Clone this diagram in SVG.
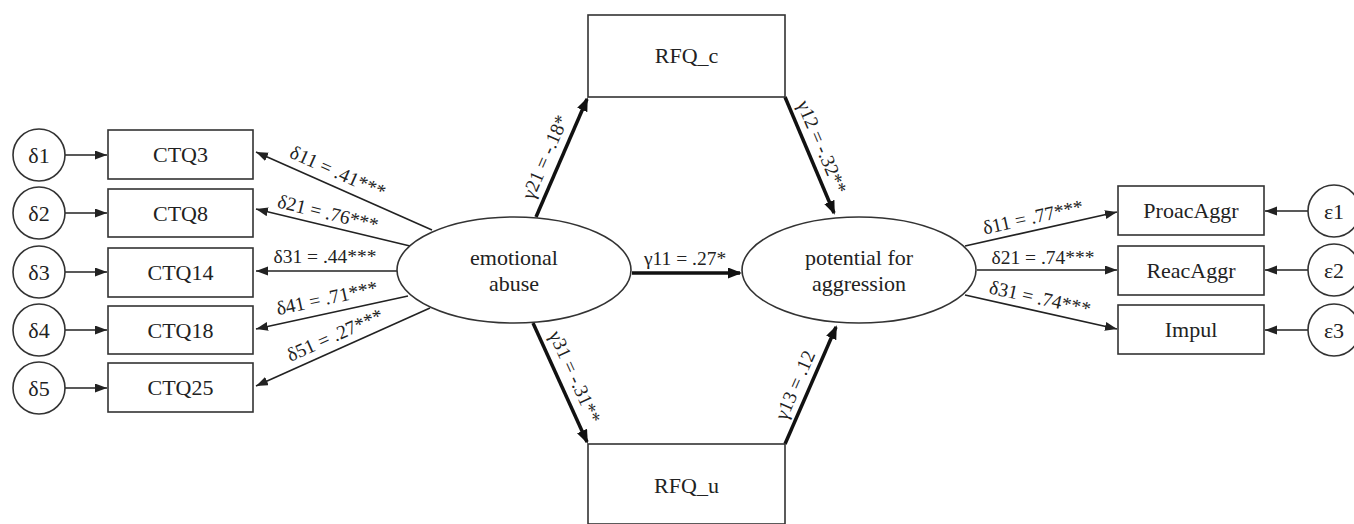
<svg xmlns="http://www.w3.org/2000/svg" width="1354" height="524" viewBox="0 0 1354 524">
<defs>
<style>
.box{fill:#fff;stroke:#333;stroke-width:1.6}
.circ{fill:#fff;stroke:#333;stroke-width:1.6}
.ell{fill:#fff;stroke:#333;stroke-width:1.6}
.t{font-size:22px;fill:#222;text-anchor:middle;dominant-baseline:central}
.lb{font-size:19.5px;fill:#222;text-anchor:middle;dominant-baseline:central}
.thin{stroke:#222;stroke-width:1.6;fill:none;marker-end:url(#ah)}
.thick{stroke:#111;stroke-width:3.5;fill:none;marker-end:url(#ahb)}
</style>
<marker id="ah" markerUnits="userSpaceOnUse" markerWidth="13" markerHeight="10" refX="12" refY="4.5" orient="auto">
<path d="M0,0 L12,4.5 L0,9 z" fill="#222"/>
</marker>
<marker id="ahb" markerUnits="userSpaceOnUse" markerWidth="15" markerHeight="12" refX="12" refY="5.5" orient="auto">
<path d="M0,0 L14,5.5 L0,11 z" fill="#111"/>
</marker>
</defs>
<rect width="1354" height="524" fill="#fff"/>
<g font-family="Liberation Serif, DejaVu Serif, serif">
<g id="connectors">
<line class="thin" x1="65" y1="155" x2="107" y2="155"/>
<line class="thin" x1="65" y1="213" x2="107" y2="213"/>
<line class="thin" x1="65" y1="272" x2="107" y2="272"/>
<line class="thin" x1="65" y1="330" x2="107" y2="330"/>
<line class="thin" x1="65" y1="388" x2="107" y2="388"/>

<line class="thin" x1="432" y1="230" x2="256" y2="152"/>
<line class="thin" x1="410" y1="246" x2="256" y2="209"/>
<line class="thin" x1="397" y1="271" x2="256" y2="271"/>
<line class="thin" x1="408" y1="296" x2="256" y2="329"/>
<line class="thin" x1="430" y1="308" x2="256" y2="386"/>

<line class="thick" x1="536" y1="217" x2="587" y2="99"/>
<line class="thick" x1="785" y1="97" x2="834" y2="213"/>
<line class="thick" x1="533" y1="323" x2="587" y2="442"/>
<line class="thick" x1="785" y1="444" x2="836" y2="327"/>
<line class="thick" x1="632" y1="273" x2="740" y2="273"/>

<line class="thin" x1="965" y1="246" x2="1117" y2="212"/>
<line class="thin" x1="977" y1="270" x2="1117" y2="270"/>
<line class="thin" x1="965" y1="295" x2="1117" y2="329"/>

<line class="thin" x1="1308" y1="211" x2="1265" y2="211"/>
<line class="thin" x1="1308" y1="270" x2="1265" y2="270"/>
<line class="thin" x1="1308" y1="330" x2="1265" y2="330"/>

<text class="lb" transform="translate(338,172) rotate(24)">δ11 = .41***</text>
<text class="lb" transform="translate(328,213) rotate(13.6)">δ21 = .76***</text>
<text class="lb" transform="translate(325,256)">δ31 = .44***</text>
<text class="lb" transform="translate(327,298) rotate(-12.3)">δ41 = .71***</text>
<text class="lb" transform="translate(335,335) rotate(-24)">δ51 = .27***</text>

<text class="lb" transform="translate(545,157) rotate(-66.6)">γ21 = -.18*</text>
<text class="lb" transform="translate(822,147) rotate(67)">γ12 = -.32**</text>
<text class="lb" transform="translate(575,377) rotate(65.6)">γ31 = -.31**</text>
<text class="lb" transform="translate(795,385) rotate(-66.4)">γ13 = .12</text>
<text class="lb" transform="translate(685,258)">γ11 = .27*</text>

<text class="lb" transform="translate(1033,217) rotate(-12.5)">δ11 = .77***</text>
<text class="lb" transform="translate(1043,257)">δ21 = .74***</text>
<text class="lb" transform="translate(1040,298) rotate(12.5)">δ31 = .74***</text>
</g>

<g id="d1"><circle class="circ" cx="39" cy="155" r="26"/><text class="t" x="39" y="155">δ1</text></g>
<g id="d2"><circle class="circ" cx="39" cy="213" r="26"/><text class="t" x="39" y="213">δ2</text></g>
<g id="d3"><circle class="circ" cx="39" cy="272" r="26"/><text class="t" x="39" y="272">δ3</text></g>
<g id="d4"><circle class="circ" cx="39" cy="330" r="26"/><text class="t" x="39" y="330">δ4</text></g>
<g id="d5"><circle class="circ" cx="39" cy="388" r="26"/><text class="t" x="39" y="388">δ5</text></g>

<g id="ctq3"><rect class="box" x="108" y="130" width="145" height="49"/><text class="t" x="180.5" y="154.5">CTQ3</text></g>
<g id="ctq8"><rect class="box" x="108" y="189" width="145" height="48"/><text class="t" x="180.5" y="213">CTQ8</text></g>
<g id="ctq14"><rect class="box" x="108" y="248" width="145" height="49"/><text class="t" x="180.5" y="272.5">CTQ14</text></g>
<g id="ctq18"><rect class="box" x="108" y="306" width="145" height="48"/><text class="t" x="180.5" y="330">CTQ18</text></g>
<g id="ctq25"><rect class="box" x="108" y="363" width="145" height="49"/><text class="t" x="180.5" y="387.5">CTQ25</text></g>

<g id="emotional"><ellipse class="ell" cx="514" cy="270" rx="117" ry="53"/><text class="t" x="514" y="257">emotional</text><text class="t" x="514" y="283">abuse</text></g>
<g id="potential"><ellipse class="ell" cx="859" cy="270" rx="117" ry="53"/><text class="t" x="859" y="257">potential for</text><text class="t" x="859" y="283">aggression</text></g>

<g id="rfqc"><rect class="box" x="588" y="15" width="197" height="82"/><text class="t" x="686.5" y="55">RFQ_c</text></g>
<g id="rfqu"><rect class="box" x="588" y="444" width="197" height="80"/><text class="t" x="686.5" y="485">RFQ_u</text></g>

<g id="proac"><rect class="box" x="1118" y="186" width="146" height="49"/><text class="t" x="1191" y="210.5">ProacAggr</text></g>
<g id="reac"><rect class="box" x="1118" y="246" width="146" height="49"/><text class="t" x="1191" y="270.5">ReacAggr</text></g>
<g id="impul"><rect class="box" x="1118" y="305" width="146" height="49"/><text class="t" x="1191" y="329.5">Impul</text></g>

<g id="e1"><circle class="circ" cx="1334" cy="211" r="26"/><text class="t" x="1334" y="211">ε1</text></g>
<g id="e2"><circle class="circ" cx="1334" cy="270" r="26"/><text class="t" x="1334" y="270">ε2</text></g>
<g id="e3"><circle class="circ" cx="1334" cy="330" r="26"/><text class="t" x="1334" y="330">ε3</text></g>
</g>
</svg>
